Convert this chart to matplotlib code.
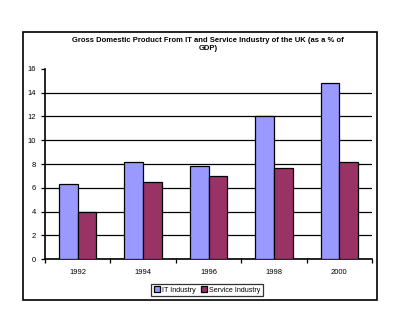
import matplotlib.pyplot as plt
import numpy as np
from matplotlib.patches import Rectangle

plt.rcParams['font.family'] = ['Liberation Sans', 'DejaVu Sans']

years = ['1992', '1994', '1996', '1998', '2000']
it_industry = [6.3, 8.2, 7.8, 12.0, 14.8]
service_industry = [4.0, 6.5, 7.0, 7.7, 8.2]

fig = plt.figure(figsize=(4, 3.33), dpi=100)
ax = fig.add_axes([0.1125, 0.222, 0.8175, 0.571])

# outer chart frame
fig.patches.append(Rectangle((0.058, 0.1), 0.885, 0.805, transform=fig.transFigure,
                             fill=False, edgecolor='black', lw=1.2))

x = np.arange(len(years))
w = 0.286
ax.bar(x - w / 2, it_industry, w, color='#9999FF', edgecolor='black', lw=0.9,
       label='IT Industry', zorder=3)
ax.bar(x + w / 2, service_industry, w, color='#993366', edgecolor='black', lw=0.9,
       label='Service Industry', zorder=3)

ax.set_xlim(-0.5, len(years) - 0.5)
ax.set_ylim(0, 16)
ax.set_yticks(range(0, 17, 2))
ax.yaxis.grid(True, color='black', lw=0.9)
ax.set_axisbelow(True)
fig.canvas.draw()
ax.yaxis.get_gridlines()[-1].set_visible(False)

ax.set_xticks(x)
ax.set_xticklabels(years)
ax.set_xticks(np.arange(-0.5, len(years)), minor=True)
ax.tick_params(axis='x', which='major', length=0, labelsize=5.5, pad=7)
ax.tick_params(axis='x', which='minor', length=3, width=0.9)
ax.tick_params(axis='y', length=3, width=0.9, labelsize=5.5)

for s in ['top', 'right']:
    ax.spines[s].set_visible(False)
ax.spines['left'].set_linewidth(1.2)
ax.spines['bottom'].set_linewidth(1.2)

fig.text(0.52, 0.865, 'Gross Domestic Product From IT and Service Industry of the UK (as a % of\nGDP)',
         ha='center', va='center', fontsize=5.5, fontweight='bold', linespacing=1.2)

leg = fig.legend(loc='center', bbox_to_anchor=(0.518, 0.129), ncol=2, fontsize=5.1,
                 frameon=True, fancybox=False, edgecolor='black', handlelength=0.8,
                 handleheight=0.8, handletextpad=0.3, columnspacing=0.8,
                 borderpad=0.4)
leg.get_frame().set_linewidth(0.9)

fig.savefig('out.png', dpi=100)
